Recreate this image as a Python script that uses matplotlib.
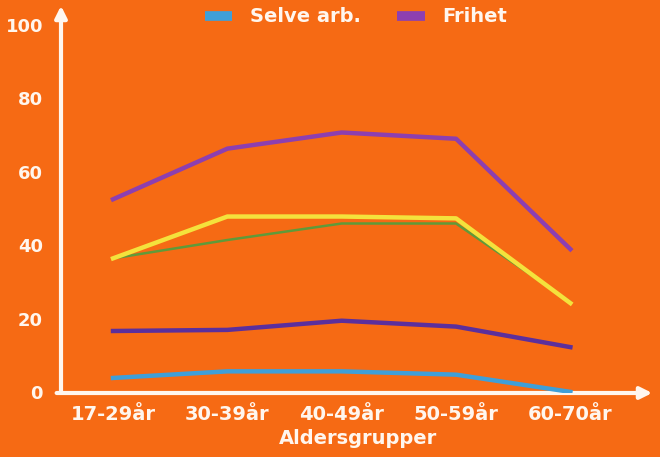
import matplotlib
matplotlib.use("Agg")
import matplotlib.pyplot as plt
from matplotlib.lines import Line2D

# values (percent)
groups = ["17-29år", "30-39år", "40-49år", "50-59år", "60-70år"]
frihet = [52.5, 66.3, 70.7, 69.0, 38.9]
gul = [36.4, 47.8, 47.8, 47.3, 24.2]
gronn = [36.4, 41.4, 45.9, 45.9, 24.5]
lilla_lav = [16.6, 16.9, 19.4, 17.8, 12.2]
selve_arb = [3.8, 5.6, 5.6, 4.7, 0.0]
yticks = [0, 20, 40, 60, 80, 100]

BG = "#f66a14"
WHITE = "#fff6ee"
C_FRIHET = "#8d3fb0"
C_SELVE = "#3f9fd8"

plt.rcParams["font.family"] = ["DejaVu Sans"]
plt.rcParams["font.weight"] = "bold"

fig = plt.figure(figsize=(6.6, 4.57), dpi=100, facecolor=BG)
ax = fig.add_axes([61 / 660, 64 / 457, 594 / 660, 390 / 457])
ax.set_facecolor(BG)

x = range(len(groups))
ax.plot(x, gronn, color="#5f9a3a", lw=1.8, solid_joinstyle="round", zorder=3)
ax.plot(x, gul, color="#f4e23c", lw=3.2, solid_joinstyle="round", zorder=4)
ax.plot(x, frihet, color=C_FRIHET, lw=3.2, solid_joinstyle="round", zorder=4)
ax.plot(x, lilla_lav, color="#5b2f9c", lw=3.2, solid_joinstyle="round", zorder=4)
ax.plot(x, selve_arb, color=C_SELVE, lw=3.2, solid_joinstyle="round", zorder=4)

ax.set_xlim(-0.455, 4.74)
ax.set_ylim(-0.3, 106)
ax.set_xticks(list(x))
ax.set_xticklabels(groups)
ax.set_yticks(yticks)
ax.tick_params(axis="x", length=0, pad=9, labelsize=14, labelcolor=WHITE)
ax.tick_params(axis="y", length=0, pad=13, labelsize=13, labelcolor=WHITE)
for lab in ax.get_xticklabels() + ax.get_yticklabels():
    lab.set_fontweight("bold")
ax.set_xlabel("Aldersgrupper", color=WHITE, fontsize=14, fontweight="bold", labelpad=3)

for s in ax.spines.values():
    s.set_visible(False)

# axis arrows
arrow = dict(arrowstyle="-|>,head_length=0.7,head_width=0.35", color=WHITE, lw=3)
ax.annotate("", xy=(1.0, 0.0), xytext=(-0.012, 0.0), xycoords="axes fraction",
            arrowprops=arrow, annotation_clip=False)
ax.annotate("", xy=(0.0, 1.0), xytext=(0.0, -0.004), xycoords="axes fraction",
            arrowprops=arrow, annotation_clip=False)

handles = [Line2D([], [], color=C_SELVE, lw=7, solid_capstyle="butt"),
           Line2D([], [], color=C_FRIHET, lw=7, solid_capstyle="butt")]
leg = fig.legend(handles, ["Selve arb.", "Frihet"], ncol=2, frameon=False,
                 loc="center", bbox_to_anchor=(356 / 660, 1 - 17 / 457),
                 prop={"size": 14, "weight": "bold"}, handlelength=1.4,
                 handletextpad=0.9, columnspacing=1.9)
for t in leg.get_texts():
    t.set_color(WHITE)

fig.savefig("out.png", dpi=100, facecolor=BG)
